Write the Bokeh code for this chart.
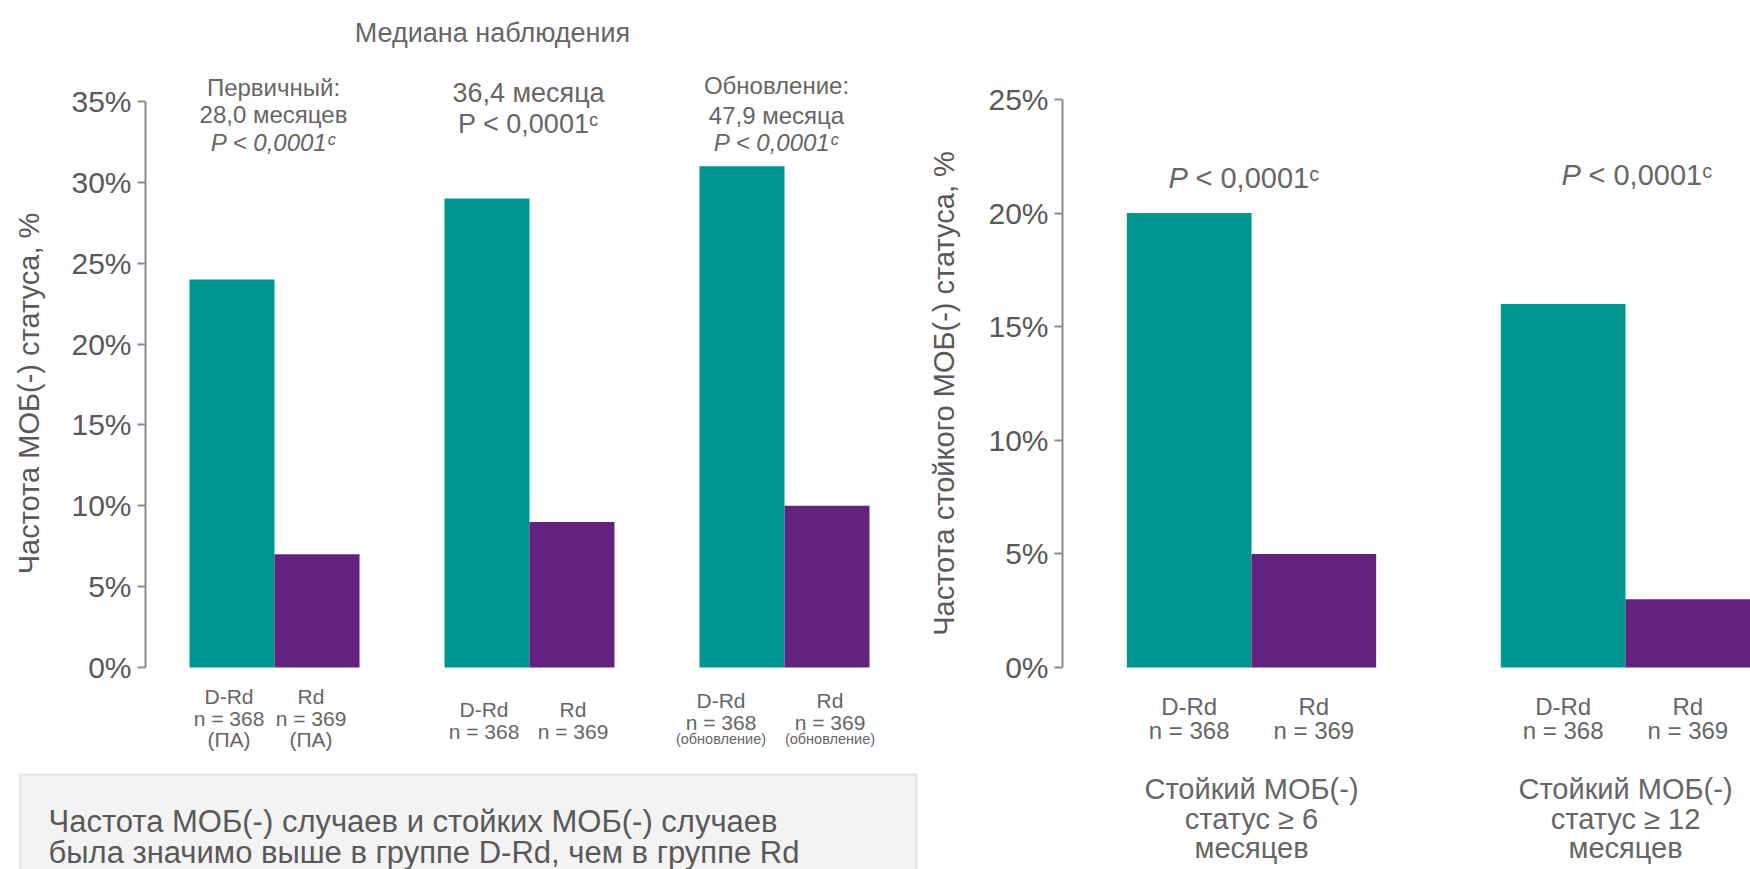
import numpy as np
from bokeh.plotting import figure
from bokeh.layouts import row
from bokeh.models import Range1d, LinearAxis, FixedTicker, PrintfTickFormatter, ColumnDataSource
from bokeh.core.properties import value
from bokeh.embed import file_html
from bokeh.resources import INLINE

# ---------------- data ----------------
left_groups = ["Первичный", "36,4 месяца", "Обновление"]
left_drd = [24, 29, 31]
left_rd = [7, 9, 10]
left_ticks = [0, 5, 10, 15, 20, 25, 30, 35]

right_groups = ["≥ 6 месяцев", "≥ 12 месяцев"]
right_drd = [20, 16]
right_rd = [5, 3]
right_ticks = [0, 5, 10, 15, 20, 25]

left_title = "Частота МОБ(-) статуса, %"
right_title = "Частота стойкого МОБ(-) статуса, %"
header = "Медиана наблюдения"
left_notes = [["Первичный:", "28,0 месяцев", "P < 0,0001ᶜ"],
              ["36,4 месяца", "P < 0,0001ᶜ"],
              ["Обновление:", "47,9 месяца", "P < 0,0001ᶜ"]]
left_drd_lab = [["D-Rd", "n = 368", "(ПА)"], ["D-Rd", "n = 368"], ["D-Rd", "n = 368", "(обновление)"]]
left_rd_lab = [["Rd", "n = 369", "(ПА)"], ["Rd", "n = 369"], ["Rd", "n = 369", "(обновление)"]]
right_p = "< 0,0001ᶜ"
right_drd_lab = ["D-Rd", "n = 368"]
right_rd_lab = ["Rd", "n = 369"]
right_cat = [["Стойкий МОБ(-)", "статус ≥ 6", "месяцев"],
             ["Стойкий МОБ(-)", "статус ≥ 12", "месяцев"]]
box_lines = ["Частота МОБ(-) случаев и стойких МОБ(-) случаев",
             "была значимо выше в группе D-Rd, чем в группе Rd"]

# ---------------- style ----------------
TEAL = "#00968F"
PURPLE = "#632280"
GRAY = "#666666"
DARK = "#595959"
FONT = value("Liberation Sans")

# pixel helpers for text placement (page pixels -> data)
def lx(px): return 1 + (px - 274) / 255.0
def ly(py): return (667 - py) / 16.17
def rx(px): return 1 + (px - 1251) / 374.0
def ry(py): return (667 - py) / 22.72


def base_fig(w, h, xr, yr):
    p = figure(width=w, height=h, x_range=xr, y_range=yr,
               x_axis_location=None, y_axis_location=None,
               toolbar_location=None, output_backend="svg",
               min_border=0, min_border_left=0, min_border_right=0,
               min_border_top=0, min_border_bottom=0)
    p.outline_line_color = None
    p.background_fill_color = "white"
    p.border_fill_color = "white"
    for g in list(p.xgrid) + list(p.ygrid):
        g.visible = False
    return p


def txt(p, x, y, s, size, color=GRAY, align="center", style="normal", angle=0.0, baseline="alphabetic"):
    p.text(x=[x], y=[y], text=[s], text_font=FONT, text_font_size=size,
           text_color=color, text_align=align, text_baseline=baseline,
           text_font_style=style, angle=angle)


def add_axis(p, loc, ticks):
    ax = LinearAxis(fixed_location=loc, bounds=(ticks[0], ticks[-1]),
                    ticker=FixedTicker(ticks=ticks),
                    formatter=PrintfTickFormatter(format="%d%%"))
    ax.axis_line_color = "#8c8c8c"
    ax.axis_line_width = 2
    ax.major_tick_line_color = "#8c8c8c"
    ax.major_tick_line_width = 2
    ax.major_tick_in = 0
    ax.major_tick_out = 8
    ax.minor_tick_line_color = None
    ax.major_label_text_font = "Liberation Sans"
    ax.major_label_text_font_size = "30px"
    ax.major_label_text_color = DARK
    ax.major_label_standoff = 6
    p.add_layout(ax, "left")


# ---------------- left chart ----------------
L = base_fig(920, 869, Range1d(lx(0), lx(920)), Range1d(ly(869), ly(0)))

# text box (decoration)
L.quad(left=[lx(19)], right=[lx(917)], bottom=[ly(869)], top=[ly(773)],
       fill_color="#e4e3e4", line_color=None)
L.quad(left=[lx(21)], right=[lx(915)], bottom=[ly(869)], top=[ly(775)],
       fill_color="#f4f3f4", line_color=None)
txt(L, lx(48), ly(821), box_lines[0], "31px", DARK, align="left")
txt(L, lx(48), ly(852), box_lines[1], "31px", DARK, align="left")

gx = np.arange(1, len(left_groups) + 1, dtype=float)
lsrc = ColumnDataSource(dict(xd=gx - 1/6, xr=gx + 1/6, drd=left_drd, rd=left_rd))
L.vbar(x="xd", top="drd", bottom=0, width=1/3, source=lsrc, fill_color=TEAL, line_color=None)
L.vbar(x="xr", top="rd", bottom=0, width=1/3, source=lsrc, fill_color=PURPLE, line_color=None)
add_axis(L, lx(145), left_ticks)

txt(L, lx(28), ly(393), left_title, "29px", DARK, angle=np.pi/2, baseline="middle")
txt(L, lx(492), ly(32), header, "27px", GRAY)

# annotations above groups
note_x = [273, 528, 776]
note_base = [[87, 114, 142], [92, 123], [85, 115, 142]]
note_size = ["24px", "27px", "24px"]
note_style = [["normal", "normal", "italic"], ["normal", "normal"], ["normal", "normal", "italic"]]
for i, lines in enumerate(left_notes):
    for j, s in enumerate(lines):
        txt(L, lx(note_x[i]), ly(note_base[i][j]), s, note_size[i], GRAY, style=note_style[i][j])

# labels under bars
lab_dx = [[-3, -6], [-3, 1], [-21, 3]]
lab_base = [[696, 718, 739], [709, 731], [700, 722, 738]]
for i in range(len(left_groups)):
    for j, s in enumerate(left_drd_lab[i]):
        size = "14.5px" if s.startswith("(о") else "21px"
        L.text(x=[gx[i] - 1/6], y=[ly(lab_base[i][j])], text=[s], x_offset=lab_dx[i][0],
               text_font=FONT, text_font_size=size, text_color=GRAY,
               text_align="center", text_baseline="alphabetic")
    for j, s in enumerate(left_rd_lab[i]):
        size = "14.5px" if s.startswith("(о") else "21px"
        L.text(x=[gx[i] + 1/6], y=[ly(lab_base[i][j])], text=[s], x_offset=lab_dx[i][1],
               text_font=FONT, text_font_size=size, text_color=GRAY,
               text_align="center", text_baseline="alphabetic")

# ---------------- right chart ----------------
R = base_fig(830, 869, Range1d(rx(920), rx(1750)), Range1d(ry(869), ry(0)))
rg = np.arange(1, len(right_groups) + 1, dtype=float)
rsrc = ColumnDataSource(dict(xd=rg - 1/6, xr=rg + 1/6, drd=right_drd, rd=right_rd))
R.vbar(x="xd", top="drd", bottom=0, width=1/3, source=rsrc, fill_color=TEAL, line_color=None)
R.vbar(x="xr", top="rd", bottom=0, width=1/3, source=rsrc, fill_color=PURPLE, line_color=None)
add_axis(R, rx(1062), right_ticks)

txt(R, rx(943), ry(393), right_title, "29px", DARK, angle=np.pi/2, baseline="middle")

p_left = [1168, 1561]
p_base = [177, 174]
for i in range(len(right_groups)):
    txt(R, rx(p_left[i]), ry(p_base[i]), "P", "29px", GRAY, align="left", style="italic")
    txt(R, rx(p_left[i] + 27), ry(p_base[i]), right_p, "29px", GRAY, align="left")
    for j, s in enumerate(right_drd_lab):
        txt(R, rg[i] - 1/6, ry([706, 730][j]), s, "24px", GRAY)
    for j, s in enumerate(right_rd_lab):
        txt(R, rg[i] + 1/6, ry([706, 730][j]), s, "24px", GRAY)
    for j, s in enumerate(right_cat[i]):
        txt(R, rg[i], ry([788, 818, 847][j]), s, "29px", GRAY)

layout = row(L, R)
open("out.html", "w").write(file_html(layout, INLINE))
